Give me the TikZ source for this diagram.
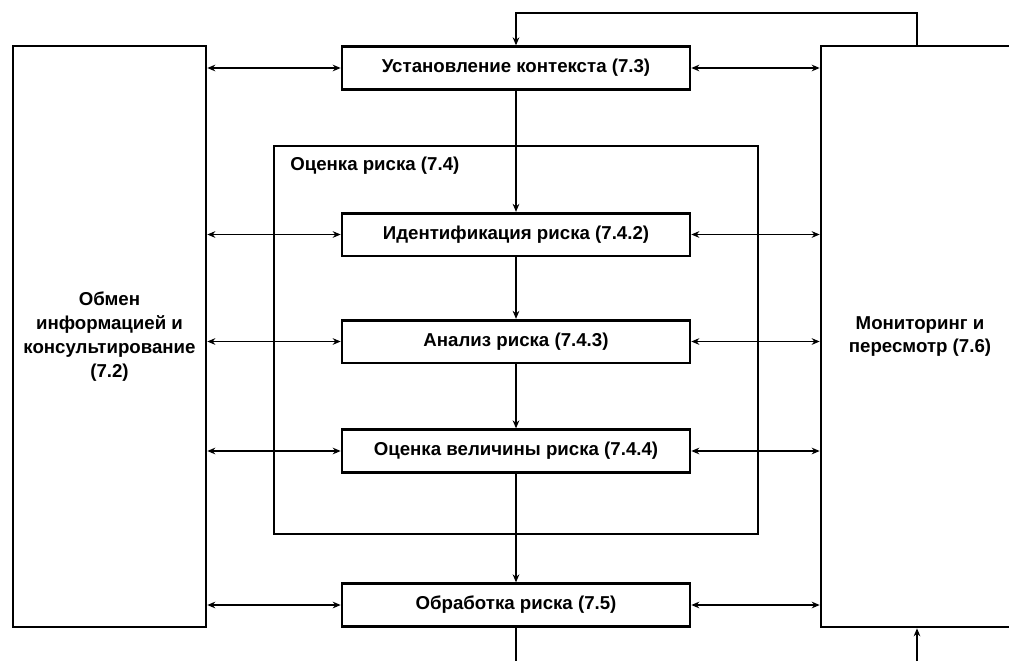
\documentclass[tikz,border=0pt]{standalone}
\usepackage{fontspec}
\setmainfont{Liberation Sans}
\usetikzlibrary{arrows.meta}
\tikzset{
  px/.style={x=0.75pt,y=-0.75pt},
  txt/.style={font=\fontsize{14}{17.8}\selectfont\bfseries},
  box/.style={draw,line width=2pt,inner sep=0pt,align=center,txt},
  stepbox/.style={box,minimum width=261pt,minimum height=32pt},
  conn/.style={line width=0.9pt},
  arr/.style={-{Stealth[length=6pt,width=5pt]}},
  barr/.style={{Stealth[length=6pt,width=5pt]}-{Stealth[length=6pt,width=5pt]}},
}
\begin{document}
\begin{tikzpicture}[px]
\useasboundingbox (0,0) rectangle (1009,661);
\clip (0,0) rectangle (1009,661);
\fill[white] (0,0) rectangle (1009,661);
% frame of risk assessment
\node[box,minimum width=363pt,minimum height=291pt] (frame) at (516,340) {};
\node[anchor=west,txt,inner sep=0pt] (framelbl) at (290,166) {Оценка риска (7.4)};
% side boxes
\node[box,minimum width=144.75pt,minimum height=435.75pt] (left) at (109.5,336.5) {Обмен\\информацией и\\консультирование\\(7.2)};
\node[box,minimum width=148.5pt,minimum height=435.75pt] (right) at (920,336.5) {Мониторинг и\\пересмотр (7.6)};
% step boxes
\node[stepbox] (ctx) at (516,68) {Установление контекста (7.3)};
\node[stepbox] (ident) at (516,234.5) {Идентификация риска (7.4.2)};
\node[stepbox] (anal) at (516,341.5) {Анализ риска (7.4.3)};
\node[stepbox] (eval) at (516,451) {Оценка величины риска (7.4.4)};
\node[stepbox] (treat) at (516,605) {Обработка риска (7.5)};
% vertical flow
\draw[conn,arr] (ctx) -- (ident);
\draw[conn,arr] (ident) -- (anal);
\draw[conn,arr] (anal) -- (eval);
\draw[conn,arr] (eval) -- (treat);
\coordinate (bot1) at (516,661);
\coordinate (bot2) at (917,661);
\coordinate (top1) at (917,13);
\coordinate (top2) at (516,13);
\draw[conn] (treat) -- (bot1);
\draw[conn,arr] (bot2) -- (bot2 |- right.south);
\draw[conn,arr] (top1 |- right.north) -- (top1) -- (top2) -- (ctx.north);
% bidirectional links
\foreach \n in {ctx,ident,anal,eval,treat}{
  \draw[conn,barr] (\n.west -| left.east) -- (\n.west);
  \draw[conn,barr] (\n.east) -- (\n.east -| right.west);
}
\end{tikzpicture}
\end{document}
